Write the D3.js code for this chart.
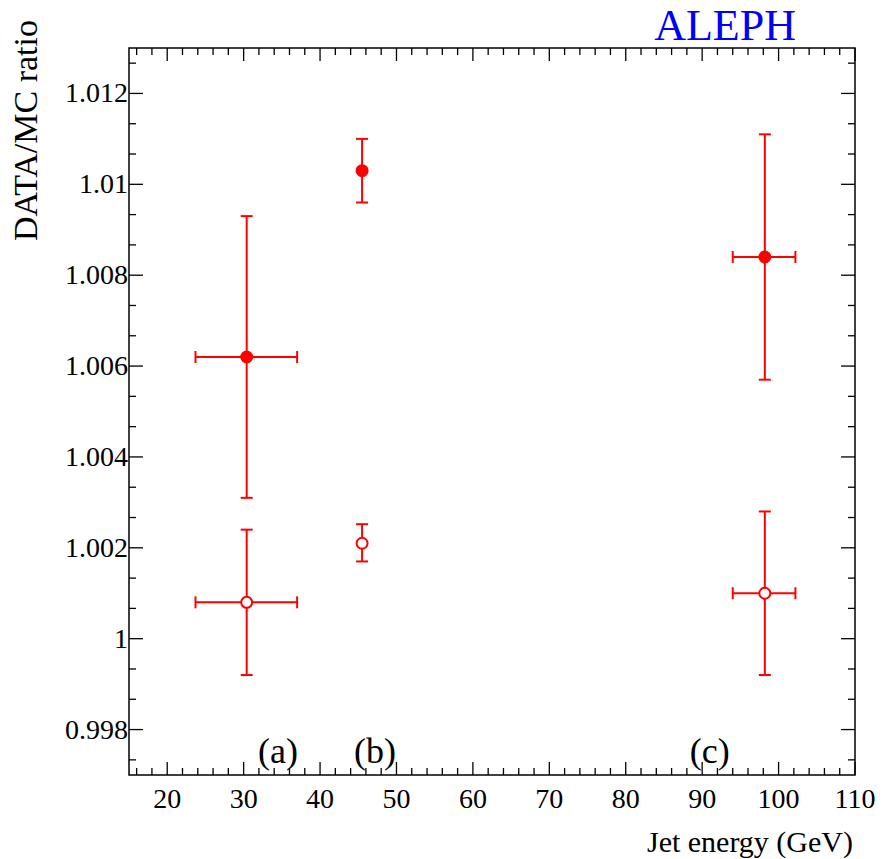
<!DOCTYPE html><html><head><script src="https://cdn.jsdelivr.net/npm/d3@7"></script>
<style>body{margin:0;background:#fff}</style></head><body>
<svg id="c" width="882" height="859" font-family="Liberation Serif, Times New Roman, serif"></svg>
<script>
const xs=[30.4,45.5,98.2];
const xLo=[23.7,45.5,94.0], xHi=[37.0,45.5,102.2];
const filled=[1.0062,1.0103,1.0084], filledLo=[1.0031,1.0096,1.0057], filledHi=[1.0093,1.0110,1.0111];
const open=[1.0008,1.0021,1.0010], openLo=[0.9992,1.0017,0.9992], openHi=[1.0024,1.00252,1.0028];
const labels=["(a)","(b)","(c)"], labelX=[34.5,47.2,91];
const xTicks=[20,30,40,50,60,70,80,90,100,110];
const yTicks=[0.998,1,1.002,1.004,1.006,1.008,1.01,1.012];
const L=129,R=855,T=48,B=775;
const x=d3.scaleLinear().domain([15,110]).range([L,R]);
const y=d3.scaleLinear().domain([0.997,1.013]).range([B,T]);
const s=d3.select("#c");
s.append("rect").attr("x",L).attr("y",T).attr("width",R-L).attr("height",B-T).attr("fill","none").attr("stroke","#000").attr("stroke-width",1.5);
const g=s.append("g").attr("stroke","#000").attr("stroke-width",1.3);
for(let v=16;v<=110.01;v+=2){const maj=Math.abs(v%10)<1e-6;const h=maj?13:7;const px=x(v);
 g.append("line").attr("x1",px).attr("x2",px).attr("y1",B).attr("y2",B-h);
 g.append("line").attr("x1",px).attr("x2",px).attr("y1",T).attr("y2",T+h);}
for(let k=-1;k<=22;k++){const v=0.998+k*0.002/3;if(v>1.0131)break;const maj=k%3===0;const h=maj?14:7;const py=y(v);
 g.append("line").attr("x1",L).attr("x2",L+h).attr("y1",py).attr("y2",py);
 g.append("line").attr("x1",R).attr("x2",R-h).attr("y1",py).attr("y2",py);}
xTicks.forEach(v=>s.append("text").attr("x",x(v)).attr("y",808).attr("text-anchor","middle").attr("font-size",28).text(v));
yTicks.forEach(v=>s.append("text").attr("x",128).attr("y",y(v)+9).attr("text-anchor","end").attr("font-size",28).text(String(+v.toFixed(3))));
s.append("text").attr("x",853).attr("y",852).attr("text-anchor","end").attr("font-size",30).text("Jet energy (GeV)");
s.append("text").attr("transform","translate(37,20) rotate(-90)").attr("text-anchor","end").attr("font-size",34).text("DATA/MC ratio");
s.append("text").attr("x",796).attr("y",40).attr("text-anchor","end").attr("font-size",44).attr("fill","#00f").text("ALEPH");
labels.forEach((t,i)=>s.append("text").attr("x",x(labelX[i])).attr("y",763).attr("text-anchor","middle").attr("font-size",36).text(t));
const red="#f00",cap=6;
function pts(vals,lo,hi,fill){
 vals.forEach((v,i)=>{const e=s.append("g").attr("stroke",red).attr("stroke-width",2);const px=x(xs[i]);
  e.append("line").attr("x1",px).attr("x2",px).attr("y1",y(lo[i])).attr("y2",y(hi[i]));
  [lo[i],hi[i]].forEach(w=>e.append("line").attr("x1",px-cap).attr("x2",px+cap).attr("y1",y(w)).attr("y2",y(w)));
  if(xHi[i]>xLo[i]){e.append("line").attr("x1",x(xLo[i])).attr("x2",x(xHi[i])).attr("y1",y(v)).attr("y2",y(v));
   [xLo[i],xHi[i]].forEach(w=>e.append("line").attr("x1",x(w)).attr("x2",x(w)).attr("y1",y(v)-cap).attr("y2",y(v)+cap));}
  e.append("circle").attr("cx",px).attr("cy",y(v)).attr("r",5.5).attr("fill",fill?red:"#fff");});}
pts(filled,filledLo,filledHi,true);pts(open,openLo,openHi,false);
</script></body></html>
